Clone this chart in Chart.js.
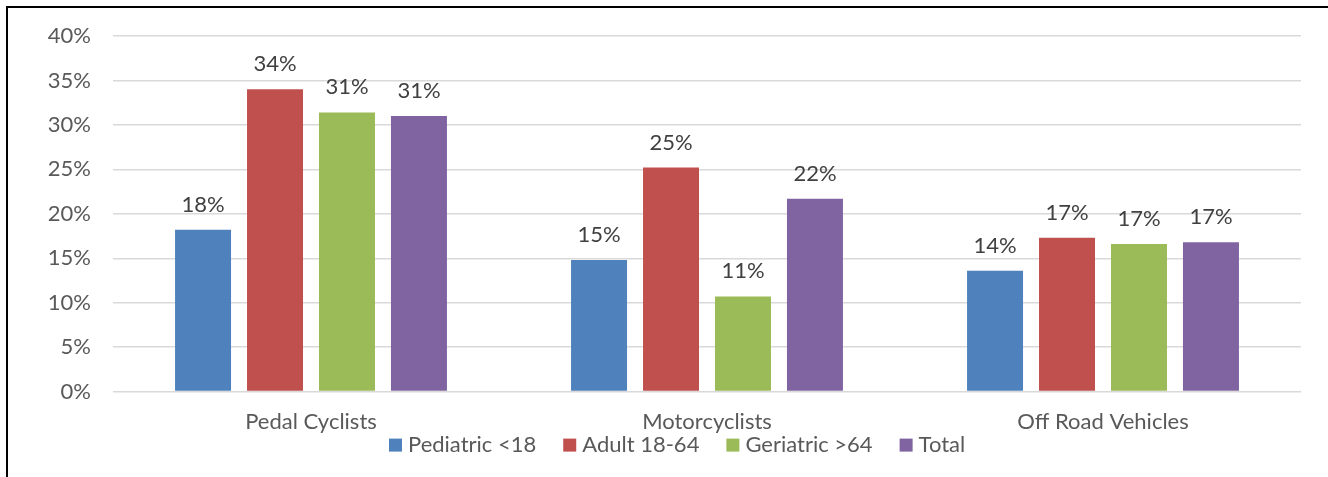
<!DOCTYPE html>
<html>
<head>
<meta charset="utf-8">
<script src="https://cdn.jsdelivr.net/npm/chart.js@4.4.0/dist/chart.umd.min.js"></script>
<style>
  html, body { margin: 0; padding: 0; background: #ffffff; }
  #wrap { position: relative; width: 1328px; height: 477px; overflow: hidden; }
  #frame { position: absolute; left: 6px; top: 6px; width: 1400px; height: 600px; border: 2px solid #000; box-sizing: border-box; }
  canvas { position: absolute; left: 0; top: 0; }
</style>
</head>
<body>
<div id="wrap">
  <div id="frame"></div>
  <canvas id="c" width="1328" height="477"></canvas>
</div>
<script>
const categories = ["Pedal Cyclists", "Motorcyclists", "Off Road Vehicles"];
const seriesNames = ["Pediatric <18", "Adult 18-64", "Geriatric >64", "Total"];
const pediatric = [18.2, 14.8, 13.6];
const adult = [34.0, 25.2, 17.3];
const geriatric = [31.4, 10.7, 16.6];
const total = [31.0, 21.7, 16.8];
const yTicks = [0, 5, 10, 15, 20, 25, 30, 35, 40];
const colors = ["#4F81BD", "#C0504D", "#9BBB59", "#8064A2"];

const FONT = "Lato, 'Open Sans', sans-serif";
const FS = 22;
const seriesValues = [pediatric, adult, geriatric, total];

const labelPlugin = {
  id: 'barLabels',
  afterDatasetsDraw(chart) {
    const ctx = chart.ctx;
    ctx.save();
    ctx.font = FS + "px " + FONT;
    ctx.fillStyle = "#404040";
    ctx.textAlign = "center";
    ctx.textBaseline = "alphabetic";
    chart.data.datasets.forEach((ds, i) => {
      const meta = chart.getDatasetMeta(i);
      meta.data.forEach((bar, j) => {
        const v = ds.data[j];
        ctx.fillText(Math.round(v) + "%", bar.x, bar.y - 18);
      });
    });
    ctx.restore();
  }
};

const legendPlugin = {
  id: 'customLegend',
  afterDraw(chart) {
    const ctx = chart.ctx;
    const area = chart.chartArea;
    ctx.save();
    ctx.font = FS + "px " + FONT;
    ctx.textAlign = "left";
    ctx.textBaseline = "alphabetic";
    const baseline = area.bottom + 60;
    let x = area.left + 276;
    chart.data.datasets.forEach((ds) => {
      ctx.fillStyle = ds.backgroundColor;
      ctx.fillRect(x, baseline - 13, 13, 13);
      ctx.fillStyle = "#595959";
      ctx.fillText(ds.label, x + 19, baseline);
      x += 19 + ctx.measureText(ds.label).width + 27;
    });
    ctx.restore();
  }
};

new Chart(document.getElementById('c'), {
  type: 'bar',
  data: {
    labels: categories,
    datasets: seriesNames.map((n, i) => ({
      label: n,
      data: seriesValues[i],
      backgroundColor: colors[i],
      borderWidth: 0,
      categoryPercentage: 0.727,
      barPercentage: 0.778
    }))
  },
  options: {
    responsive: false,
    animation: false,
    devicePixelRatio: 1,
    layout: { padding: { left: 0, right: 27, top: 36, bottom: 25 } },
    plugins: {
      legend: { display: false },
      tooltip: { enabled: false }
    },
    scales: {
      x: {
        grid: { display: false, drawTicks: false },
        border: { display: false },
        ticks: { font: { family: FONT, size: FS }, color: "#595959", padding: 17 }
      },
      y: {
        min: 0, max: 40,
        afterBuildTicks(scale) { scale.ticks = yTicks.map(v => ({ value: v })); },
        afterFit(scale) { scale.width = 113; },
        grid: { color: "#D9D9D9", lineWidth: 1.5, drawTicks: false },
        border: { display: false },
        ticks: {
          font: { family: FONT, size: FS }, color: "#595959", padding: 22,
          callback: v => v + "%"
        }
      }
    }
  },
  plugins: [labelPlugin, legendPlugin]
});
</script>
</body>
</html>
